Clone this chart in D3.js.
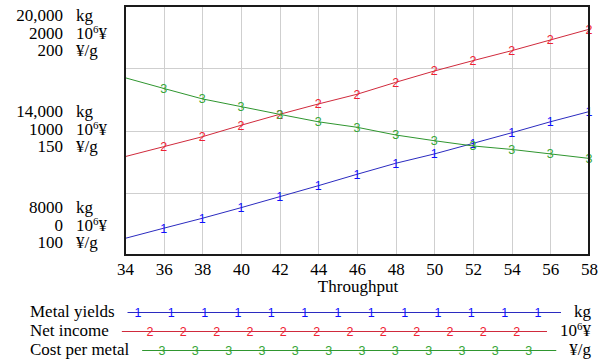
<!DOCTYPE html>
<html>
<head>
<meta charset="utf-8">
<script src="https://cdn.jsdelivr.net/npm/d3@7"></script>
<style>
html,body{margin:0;padding:0;background:#fff;}
svg{display:block;}
</style>
</head>
<body>
<svg id="chart" width="607" height="360"></svg>
<script>
// ---- data ----
const throughput = [34,36,38,40,42,44,46,48,50,52,54,56,58];
const metalYields = [8800,9290,9770,10280,10810,11340,11890,12420,12870,13380,13890,14420,14910];
const netIncome = [790,870,950,1042,1130,1213,1291,1387,1478,1561,1641,1727,1813];
const costPerMetal = [171.2,166.9,162.7,159.6,156.5,153.5,151.3,148.2,145.9,143.8,142.4,140.6,138.8];
const xTicks = [34,36,38,40,42,44,46,48,50,52,54,56,58];
const kgTicks = ["20,000","14,000","8000"];
const incomeTicks = ["2000","1000","0"];
const costTicks = ["200","150","100"];
const seriesNames = ["Metal yields","Net income","Cost per metal"];
const seriesUnits = ["kg","10^6¥","¥/g"];
const seriesMarks = ["1","2","3"];

// ---- layout ----
const L = 125, R = 589, T = 6, B = 255;
const svg = d3.select("#chart");
const serif = "'Liberation Serif','Times New Roman',serif";
const sans = "'Liberation Sans',Arial,sans-serif";
const lineCols = ["#2b2bc0","#d02a3c","#2f962f"];
const markCols = ["#1010ff","#ee2233","#35a535"];

const x = d3.scaleLinear().domain([34,58]).range([L,R]);
const yKg = d3.scaleLinear().domain([8000,20000]).range([B,T]);
const yInc = d3.scaleLinear().domain([0,2000]).range([B,T]);
const yCost = d3.scaleLinear().domain([100,200]).range([B,T]);

// grid
svg.append("g").selectAll("line").data(xTicks.slice(1,-1)).enter().append("line")
  .attr("x1",d=>Math.round(x(d))+0.5).attr("x2",d=>Math.round(x(d))+0.5).attr("y1",T).attr("y2",B)
  .attr("stroke","#cfcfcf").attr("stroke-width",1);
svg.append("g").selectAll("line").data([11000,14000,17000]).enter().append("line")
  .attr("x1",L).attr("x2",R).attr("y1",d=>Math.round(yKg(d))+0.5).attr("y2",d=>Math.round(yKg(d))+0.5)
  .attr("stroke","#cfcfcf").attr("stroke-width",1);

// series
const series = [
  {vals: metalYields, y: yKg},
  {vals: netIncome, y: yInc},
  {vals: costPerMetal, y: yCost}
];
series.forEach((s,i)=>{
  const pts = throughput.map((t,j)=>[x(t), s.y(s.vals[j])]);
  svg.append("path").attr("d", d3.line()(pts)).attr("fill","none")
    .attr("stroke",lineCols[i]).attr("stroke-width",1);
  svg.append("g").selectAll("text").data(pts.slice(1)).enter().append("text")
    .attr("x",d=>d[0]).attr("y",d=>d[1]+4.5)
    .attr("text-anchor","middle").attr("font-family",sans).attr("font-size",12.5)
    .attr("fill",markCols[i]).text(seriesMarks[i]);
});

// frame
svg.append("rect").attr("x",L).attr("y",T).attr("width",R-L).attr("height",B-T)
  .attr("fill","none").attr("stroke","#1a1a1a").attr("stroke-width",2);

// x axis
const xa = svg.append("g").attr("transform",`translate(0,${B})`)
  .call(d3.axisBottom(x).tickValues(xTicks).tickSize(0).tickPadding(0).tickFormat(d3.format("d")));
xa.select(".domain").remove();
xa.selectAll("text").attr("font-family",serif).attr("font-size",17).attr("fill","#000")
  .attr("dy",null).attr("y",19.5);
svg.append("text").attr("x",(L+R)/2+1).attr("y",292).attr("text-anchor","middle")
  .attr("font-family",serif).attr("font-size",17).attr("fill","#000").text("Throughput");

// left axis labels
const groups = [
  {tickY: yKg(20000), base: 21},
  {tickY: yKg(14000), base: 117},
  {tickY: yKg(8000), base: 213}
];
const tickSets = [kgTicks, incomeTicks, costTicks];
function unitText(sel, u){
  if(u.indexOf("^")>=0){
    const parts = u.split("^");
    sel.append("tspan").text(parts[0]);
    sel.append("tspan").attr("font-size",11).attr("dy",-6).text(parts[1].charAt(0));
    sel.append("tspan").attr("dy",6).text(parts[1].slice(1));
  } else sel.text(u);
}
groups.forEach((gp,gi)=>{
  for(let k=0;k<3;k++){
    const yy = gp.base + k*17.5;
    svg.append("text").attr("x",63).attr("y",yy).attr("text-anchor","end")
      .attr("font-family",serif).attr("font-size",17).attr("fill","#000").text(tickSets[k][gi]);
    const t = svg.append("text").attr("x",76).attr("y",yy)
      .attr("font-family",serif).attr("font-size",17).attr("fill","#000");
    unitText(t, seriesUnits[k]);
  }
});

// legend
const legY = [312, 331, 350];
const legMarkStart = [138, 150, 162];
seriesNames.forEach((nm,i)=>{
  const lbl = svg.append("text").attr("x",30).attr("y",legY[i]+5)
    .attr("font-family",serif).attr("font-size",17).attr("fill","#000").text(nm);
  const lw = lbl.node().getComputedTextLength();
  const u = svg.append("text").attr("x",591).attr("y",legY[i]+5).attr("text-anchor","end")
    .attr("font-family",serif).attr("font-size",17).attr("fill","#000");
  unitText(u, seriesUnits[i]);
  const uw = u.node().getComputedTextLength();
  const x0 = 30 + lw + 13, x1 = 591 - uw - 13;
  svg.append("line").attr("x1",x0).attr("x2",x1).attr("y1",legY[i]+0.5).attr("y2",legY[i]+0.5)
    .attr("stroke",lineCols[i]).attr("stroke-width",1);
  const ms = d3.range(legMarkStart[i], x1-8, 33.33);
  svg.append("g").selectAll("text").data(ms).enter().append("text")
    .attr("x",d=>d).attr("y",legY[i]+4.5).attr("text-anchor","middle")
    .attr("font-family",sans).attr("font-size",12.5).attr("fill",markCols[i]).text(seriesMarks[i]);
});
</script>
</body>
</html>
